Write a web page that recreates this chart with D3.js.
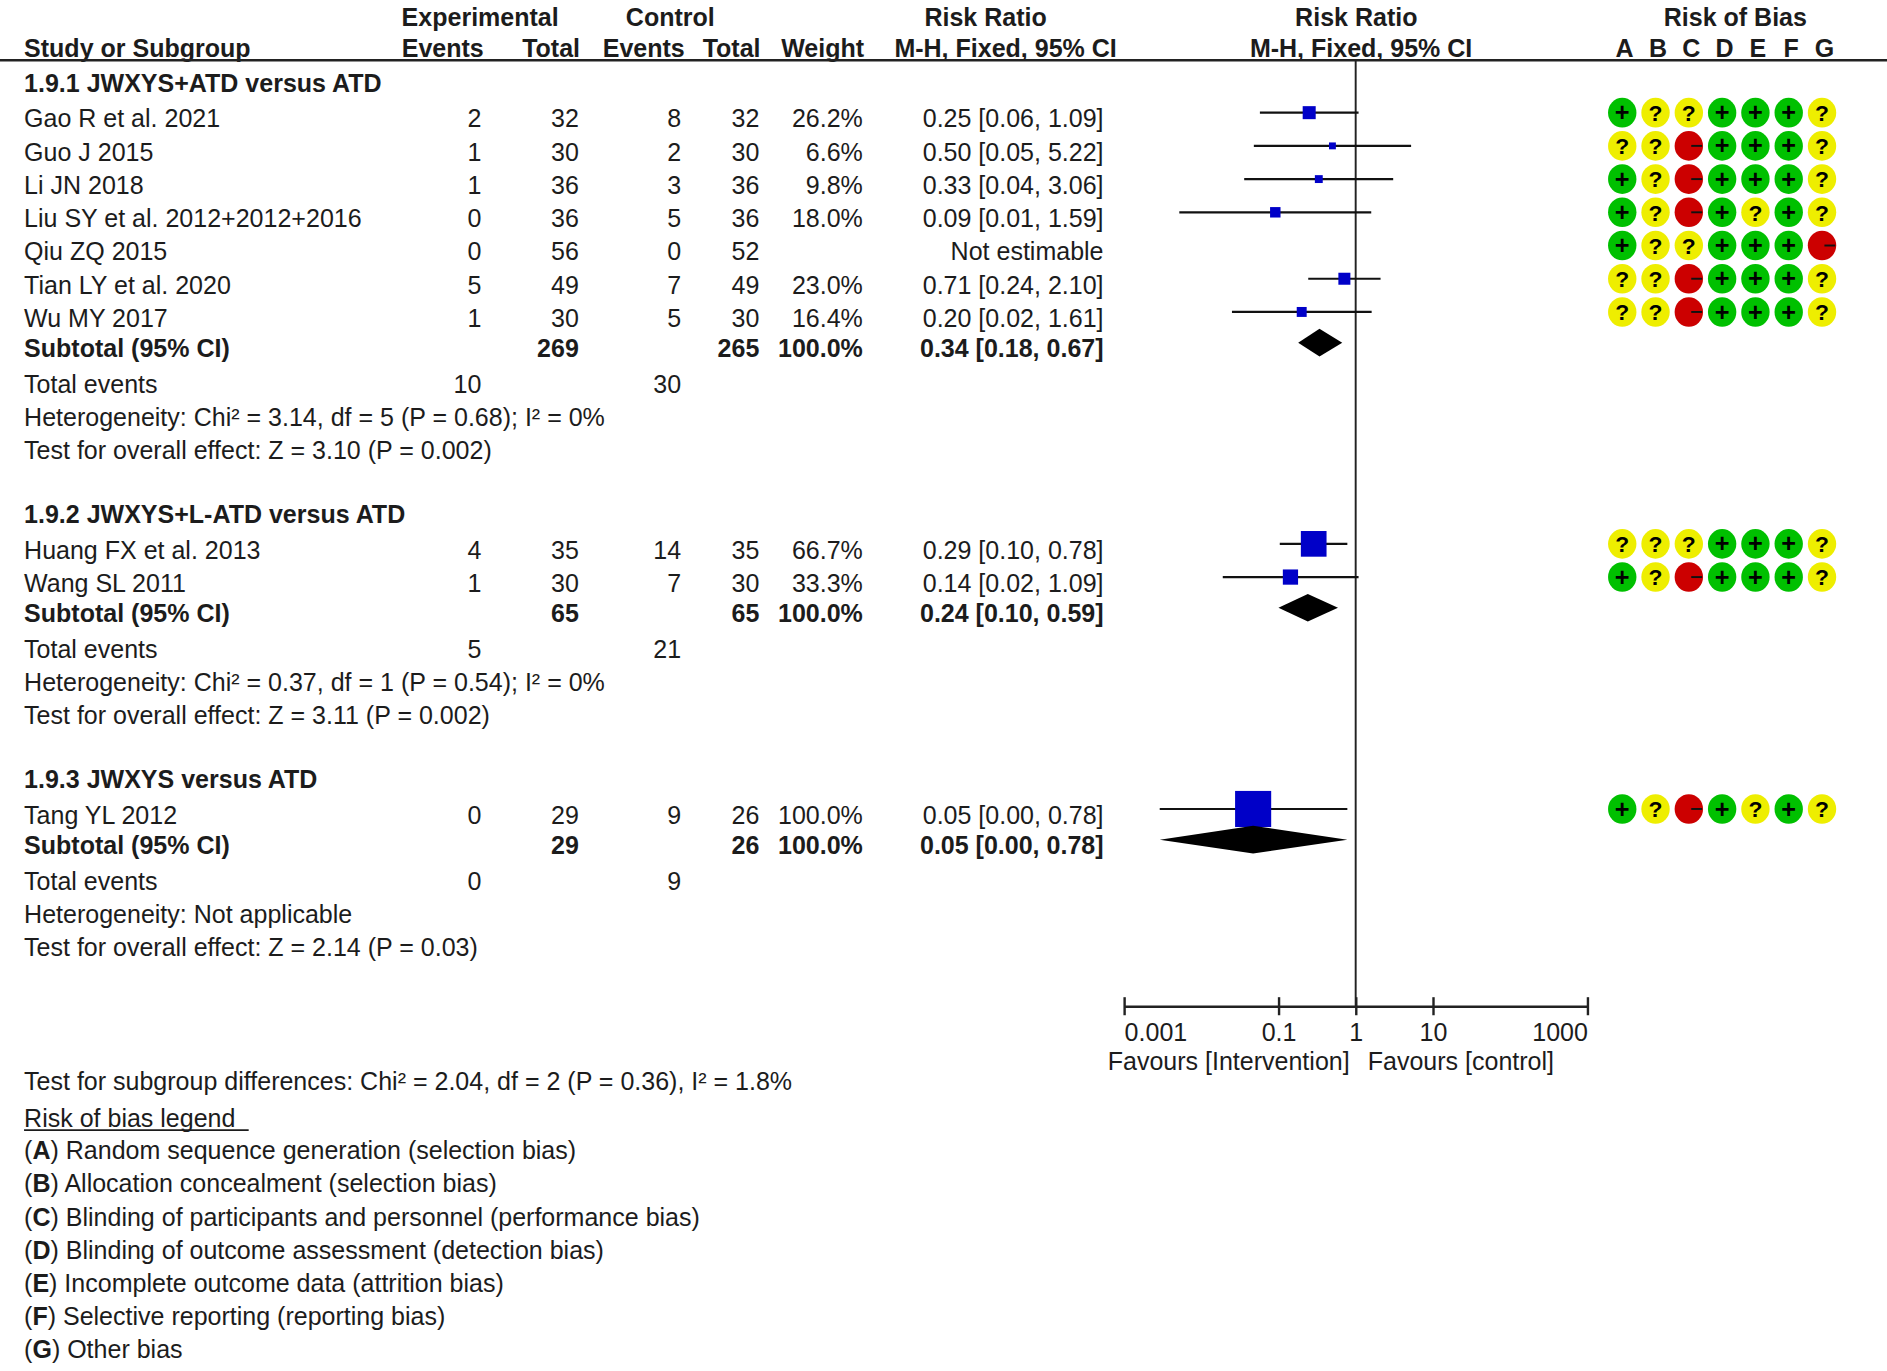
<!DOCTYPE html>
<html>
<head>
<meta charset="utf-8">
<script src="https://cdn.jsdelivr.net/npm/d3@7"></script>
<style>
html, body { margin: 0; padding: 0; background: #fff; }
svg { display: block; font-family: "Liberation Sans", Arial, sans-serif; }
</style>
</head>
<body>
<div id="chart"></div>
<script>
// --- data ---
const subgroupTitles = ["1.9.1 JWXYS+ATD versus ATD", "1.9.2 JWXYS+L-ATD versus ATD", "1.9.3 JWXYS versus ATD"];

const studyNames = ["Gao R et al. 2021", "Guo J 2015", "Li JN 2018", "Liu SY et al. 2012+2012+2016",
  "Qiu ZQ 2015", "Tian LY et al. 2020", "Wu MY 2017", "Huang FX et al. 2013", "Wang SL 2011", "Tang YL 2012"];
const studyGroup = [0, 0, 0, 0, 0, 0, 0, 1, 1, 2];
const expEvents = [2, 1, 1, 0, 0, 5, 1, 4, 1, 0];
const expTotal  = [32, 30, 36, 36, 56, 49, 30, 35, 30, 29];
const ctlEvents = [8, 2, 3, 5, 0, 7, 5, 14, 7, 9];
const ctlTotal  = [32, 30, 36, 36, 52, 49, 30, 35, 30, 26];
const weights   = [26.2, 6.6, 9.8, 18.0, null, 23.0, 16.4, 66.7, 33.3, 100.0];
const rr     = [0.25, 0.50, 0.333, 0.091, null, 0.714, 0.20, 0.286, 0.143, 0.047];
const rrLow  = [0.0575, 0.048, 0.036, 0.0052, null, 0.243, 0.025, 0.104, 0.019, 0.0029];
const rrHigh = [1.09, 5.22, 3.06, 1.59, null, 2.10, 1.61, 0.78, 1.09, 0.78];
const ciText = ["0.25 [0.06, 1.09]", "0.50 [0.05, 5.22]", "0.33 [0.04, 3.06]", "0.09 [0.01, 1.59]",
  "Not estimable", "0.71 [0.24, 2.10]", "0.20 [0.02, 1.61]", "0.29 [0.10, 0.78]", "0.14 [0.02, 1.09]", "0.05 [0.00, 0.78]"];

// risk of bias, domains A-G
const biasLetters = ["A", "B", "C", "D", "E", "F", "G"];
const biasRows = [
  "+??+++?", "??-+++?", "+?-+++?", "+?-+?+?", "+??+++-",
  "??-+++?", "??-+++?", "???+++?", "+?-+++?", "+?-+?+?"
];

const subRR    = [0.34, 0.24, 0.047];
const subLow   = [0.18, 0.10, 0.0029];
const subHigh  = [0.67, 0.59, 0.78];
const subText  = ["0.34 [0.18, 0.67]", "0.24 [0.10, 0.59]", "0.05 [0.00, 0.78]"];
const heterogeneity = [
  "Heterogeneity: Chi² = 3.14, df = 5 (P = 0.68); I² = 0%",
  "Heterogeneity: Chi² = 0.37, df = 1 (P = 0.54); I² = 0%",
  "Heterogeneity: Not applicable"
];
const overallEffect = [
  "Test for overall effect: Z = 3.10 (P = 0.002)",
  "Test for overall effect: Z = 3.11 (P = 0.002)",
  "Test for overall effect: Z = 2.14 (P = 0.03)"
];
const subgroupDiff = "Test for subgroup differences: Chi² = 2.04, df = 2 (P = 0.36), I² = 1.8%";

const tickValues = [0.001, 0.1, 1, 10, 1000];
const tickLabels = ["0.001", "0.1", "1", "10", "1000"];
const favours = ["Favours [Intervention]", "Favours [control]"];

const legendItems = [
  ["A", "Random sequence generation (selection bias)"],
  ["B", "Allocation concealment (selection bias)"],
  ["C", "Blinding of participants and personnel (performance bias)"],
  ["D", "Blinding of outcome assessment (detection bias)"],
  ["E", "Incomplete outcome data (attrition bias)"],
  ["F", "Selective reporting (reporting bias)"],
  ["G", "Other bias"]
];

// --- drawing ---
const W = 1568, H = 1139;
const FS = 20.8;
const ink = "#1c1c1c";

const svg = d3.select("#chart").append("svg")
  .attr("width", 1887).attr("height", 1371)
  .attr("viewBox", [0, 0, W, H]);

function txt(x, y, s, anchor = "start", bold = false) {
  return svg.append("text")
    .attr("x", x).attr("y", y).attr("dy", "0.35em")
    .attr("text-anchor", anchor)
    .attr("font-size", FS)
    .attr("font-weight", bold ? "bold" : "normal")
    .attr("fill", ink)
    .text(s);
}

// column positions (right edges)
const col = { name: 20, expEv: 400, expTot: 481, ctlEv: 566, ctlTot: 631, weight: 717, ci: 917 };

// header
const h1 = 14, h2 = 40;
txt(399, h1, "Experimental", "middle", true);
txt(557, h1, "Control", "middle", true);
txt(819, h1, "Risk Ratio", "middle", true);
txt(1127, h1, "Risk Ratio", "middle", true);
txt(1442, h1, "Risk of Bias", "middle", true);
txt(col.name, h2, "Study or Subgroup", "start", true);
txt(402, h2, "Events", "end", true);
txt(482, h2, "Total", "end", true);
txt(569, h2, "Events", "end", true);
txt(632, h2, "Total", "end", true);
txt(718, h2, "Weight", "end", true);
txt(928, h2, "M-H, Fixed, 95% CI", "end", true);
txt(1131, h2, "M-H, Fixed, 95% CI", "middle", true);

const x = d3.scaleLog().domain([0.001, 1000]).range([934, 1319]);
const squareSide = d3.scaleLinear().domain([0, 100]).range([4, 30]);
const biasX = d3.scalePoint().domain(biasLetters).range([1348, 1514]);
biasLetters.forEach(l => txt(biasX(l) + 2, h2, l, "middle", true));

svg.append("line")
  .attr("x1", 0).attr("x2", W).attr("y1", 50).attr("y2", 50)
  .attr("stroke", "#222").attr("stroke-width", 2);

const axisY = 836;
svg.append("line")
  .attr("x1", x(1)).attr("x2", x(1)).attr("y1", 50).attr("y2", axisY)
  .attr("stroke", "#222").attr("stroke-width", 1.6);

// layout of rows
const rowStep = 27.6;
let y = 69;
const layout = [];
subgroupTitles.forEach((title, gi) => {
  const L = { header: y };
  y += 29.5;
  const idx = studyNames.map((d, i) => i).filter(i => studyGroup[i] === gi);
  L.studies = idx.map((i, k) => ({ i, y: y + k * rowStep }));
  y += (idx.length - 1) * rowStep + 25;
  L.subtotal = y; y += 30;
  L.total = y; y += rowStep;
  L.het = y; y += rowStep;
  L.test = y; y += 53;
  L.idx = idx;
  layout.push(L);
});

const plot = svg.append("g");
const bias = svg.append("g");
const colour = { "+": "#00c000", "?": "#eeee00", "-": "#cc0000" };

layout.forEach((L, gi) => {
  txt(col.name, L.header, subgroupTitles[gi], "start", true);

  L.studies.forEach(({ i, y }) => {
    txt(col.name, y, studyNames[i]);
    txt(col.expEv, y, expEvents[i], "end");
    txt(col.expTot, y, expTotal[i], "end");
    txt(col.ctlEv, y, ctlEvents[i], "end");
    txt(col.ctlTot, y, ctlTotal[i], "end");
    if (weights[i] != null) txt(col.weight, y, weights[i].toFixed(1) + "%", "end");
    txt(col.ci, y, ciText[i], "end");

    const my = y - 5;
    if (rr[i] != null) {
      plot.append("line")
        .attr("x1", x(Math.max(rrLow[i], 0.001))).attr("x2", x(Math.min(rrHigh[i], 1000)))
        .attr("y1", my).attr("y2", my)
        .attr("stroke", "#111").attr("stroke-width", 1.8);
      const s = squareSide(weights[i]);
      plot.append("rect")
        .attr("x", x(rr[i]) - s / 2).attr("y", my - s / 2)
        .attr("width", s).attr("height", s)
        .attr("fill", "#0000c8");
    }

    // risk of bias circles
    biasRows[i].split("").forEach((v, k) => {
      const cx = biasX(biasLetters[k]);
      bias.append("ellipse")
        .attr("cx", cx).attr("cy", my).attr("rx", 11.8).attr("ry", 12.3)
        .attr("fill", colour[v]);
      if (v === "-") {
        bias.append("line")
          .attr("x1", cx + 2).attr("x2", cx + 11).attr("y1", my).attr("y2", my)
          .attr("stroke", "#111").attr("stroke-width", 1.6);
      } else {
        bias.append("text")
          .attr("x", cx).attr("y", my).attr("dy", v === "+" ? "0.34em" : "0.36em")
          .attr("text-anchor", "middle")
          .attr("font-size", v === "+" ? 21 : 19).attr("font-weight", "bold")
          .attr("fill", "#000")
          .text(v);
      }
    });
  });

  // subtotal
  txt(col.name, L.subtotal, "Subtotal (95% CI)", "start", true);
  txt(col.expTot, L.subtotal, d3.sum(L.idx, i => expTotal[i]), "end", true);
  txt(col.ctlTot, L.subtotal, d3.sum(L.idx, i => ctlTotal[i]), "end", true);
  txt(col.weight, L.subtotal, "100.0%", "end", true);
  txt(col.ci, L.subtotal, subText[gi], "end", true);

  const dy = L.subtotal - 4.5, hh = 11.5;
  plot.append("polygon")
    .attr("points", [
      [x(subLow[gi]), dy], [x(subRR[gi]), dy - hh],
      [x(subHigh[gi]), dy], [x(subRR[gi]), dy + hh]
    ].map(p => p.join(",")).join(" "))
    .attr("fill", "#000");

  txt(col.name, L.total, "Total events");
  txt(col.expEv, L.total, d3.sum(L.idx, i => expEvents[i]), "end");
  txt(col.ctlEv, L.total, d3.sum(L.idx, i => ctlEvents[i]), "end");
  txt(col.name, L.het, heterogeneity[gi]);
  txt(col.name, L.test, overallEffect[gi]);
});

// axis
const axis = d3.axisBottom(x)
  .tickValues(tickValues)
  .tickFormat((d, i) => tickLabels[i])
  .tickSizeInner(7.5).tickSizeOuter(0);
const ag = svg.append("g")
  .attr("transform", `translate(0,${axisY})`)
  .call(axis)
  .attr("font-family", null).attr("font-size", FS);
ag.select(".domain").attr("stroke", "#222").attr("stroke-width", 2);
ag.selectAll(".tick line").attr("y1", -7.5).attr("y2", 7.5).attr("stroke", "#222").attr("stroke-width", 2);
ag.selectAll(".tick text")
  .attr("y", 14).attr("fill", ink)
  .attr("text-anchor", (d, i) => i === 0 ? "start" : i === tickValues.length - 1 ? "end" : "middle");

txt(x(1) - 5, 882, favours[0], "end");
txt(x(1) + 10, 882, favours[1], "start");

// footer
txt(col.name, 898, subgroupDiff);
const lt = txt(col.name, 929, "Risk of bias legend");
const ltw = lt.node().getComputedTextLength();
svg.append("line")
  .attr("x1", col.name).attr("x2", col.name + ltw + 11)
  .attr("y1", 939).attr("y2", 939)
  .attr("stroke", ink).attr("stroke-width", 1.5);

legendItems.forEach(([k, label], j) => {
  const t = svg.append("text")
    .attr("x", col.name).attr("y", 956 + j * 27.5).attr("dy", "0.35em")
    .attr("font-size", FS).attr("fill", ink);
  t.append("tspan").text("(");
  t.append("tspan").attr("font-weight", "bold").text(k);
  t.append("tspan").text(") " + label);
});
</script>
</body>
</html>
